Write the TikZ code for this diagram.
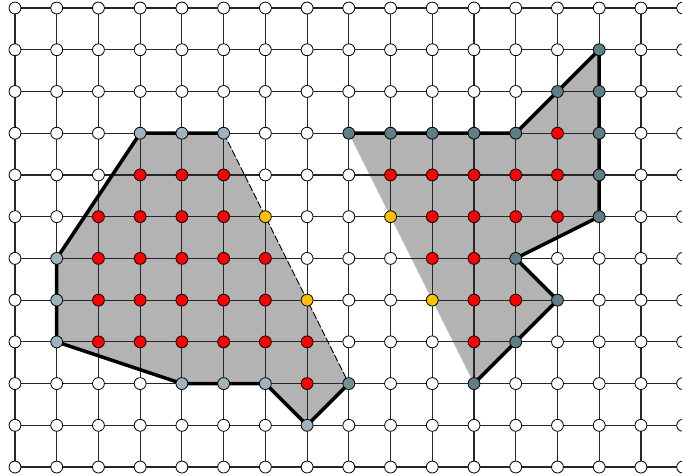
\documentclass[tikz,border=0pt]{standalone}
\usepackage{xcolor}
\usepackage{tikz}
\usetikzlibrary{backgrounds}
\definecolor{ptred}{HTML}{FF0000}
\definecolor{ptgold}{HTML}{FFC000}
\definecolor{ptlight}{HTML}{9DB3BF}
\definecolor{ptdark}{HTML}{5F7F86}
\definecolor{ptmid}{HTML}{7A9099}
\definecolor{regiongray}{HTML}{B3B3B3}

% remember a colour for each listed lattice point
\newcommand\markpts[2]{\foreach \p in {#2}{\expandafter\xdef\csname pc-\p\endcsname{#1}}}

\tikzset{
  pt/.style={circle, draw=black, line width=0.55pt, minimum size=0.285cm, inner sep=0pt},
  gridline/.style={black!85, line width=0.8pt},
  rim/.style={black, line width=2.4pt, line join=round},
  cutline/.style={black, line width=0.6pt, dash pattern=on 5pt off 1.5pt}
}

\begin{document}
\begin{tikzpicture}
  \useasboundingbox (-0.359,0.192) rectangle (15.984,-11.191);

  % Colours of the points (all others white)
  \markpts{ptred}{3-4,4-4,5-4,2-5,3-5,4-5,5-5,2-6,3-6,4-6,5-6,6-6,2-7,3-7,4-7,5-7,6-7,
    2-8,3-8,4-8,5-8,6-8,7-8,7-9,13-3,9-4,10-4,11-4,12-4,13-4,10-5,11-5,12-5,13-5,
    10-6,11-6,11-7,12-7,11-8}
  \markpts{ptgold}{6-5,7-7,9-5,10-7}
  \markpts{ptlight}{3-3,4-3,5-3,1-6,1-7,1-8,4-9,5-9,6-9,7-10}
  \markpts{ptdark}{8-3,9-3,10-3,11-3,12-3,13-2,14-1,14-2,14-3,14-4,14-5,12-6,13-7,12-8,11-9}
  \markpts{ptmid}{8-9}

  % Lattice points
  \foreach \i in {0,...,16} {
    \foreach \j in {0,...,11} {
      \ifcsname pc-\i-\j\endcsname
        \edef\pc{\csname pc-\i-\j\endcsname}
      \else
        \def\pc{white}
      \fi
      \node[pt, fill=\pc] (n-\i-\j) at (\i,-\j) {};
    }
  }

  \begin{scope}[on background layer]
    % Shaded regions
    \fill[regiongray] (n-3-3.center) -- (n-5-3.center) -- (n-8-9.center) -- (n-7-10.center)
      -- (n-6-9.center) -- (n-4-9.center) -- (n-1-8.center) -- (n-1-6.center) -- cycle;
    \fill[regiongray] (n-8-3.center) -- (n-12-3.center) -- (n-14-1.center) -- (n-14-5.center)
      -- (n-12-6.center) -- (n-13-7.center) -- (n-11-9.center) -- cycle;

    % Grid
    \foreach \i in {0,...,16}
      \draw[gridline] (n-\i-0.center) -- (n-\i-11.center);
    \foreach \j in {0,...,11}
      \draw[gridline] (n-0-\j.center) -- (n-16-\j.center);

    % Left boundary
    \draw[rim] (n-8-9.center) -- (n-7-10.center) -- (n-6-9.center) -- (n-4-9.center)
      -- (n-1-8.center) -- (n-1-6.center) -- (n-3-3.center) -- (n-5-3.center);
    \draw[cutline] (n-5-3.center) -- (n-8-9.center);

    % Right boundary
    \draw[rim] (n-11-9.center) -- (n-13-7.center) -- (n-12-6.center) -- (n-14-5.center)
      -- (n-14-1.center) -- (n-12-3.center) -- (n-8-3.center);
  \end{scope}
\end{tikzpicture}
\end{document}
